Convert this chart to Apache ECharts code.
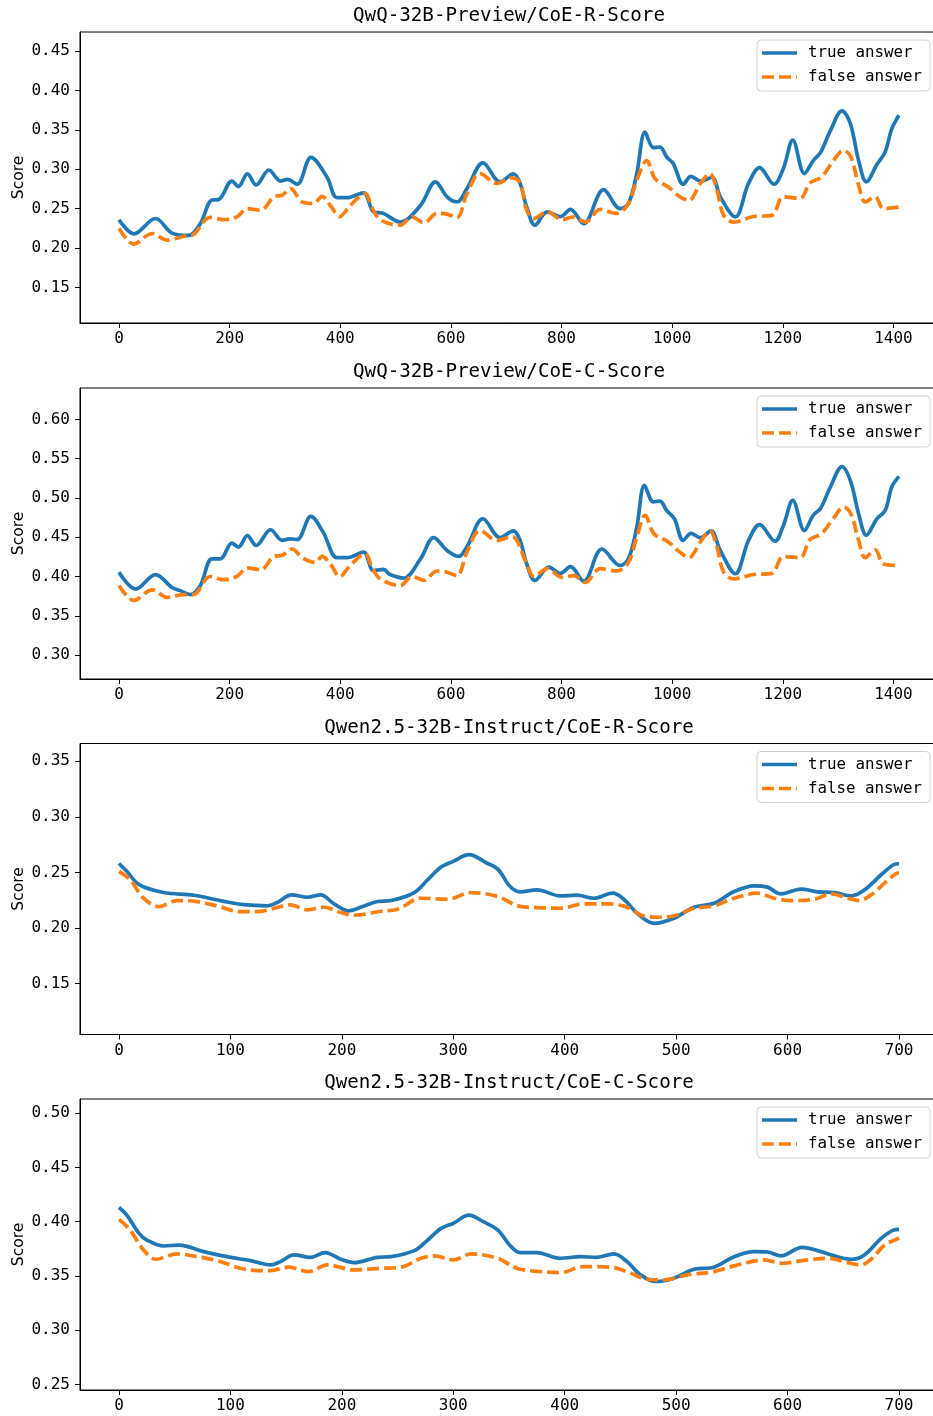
<!DOCTYPE html>
<html><head><meta charset="utf-8">
<script src="https://cdn.jsdelivr.net/npm/echarts@6/dist/echarts.min.js"></script>
<style>html,body{margin:0;padding:0;background:#fff}#c{width:933px;height:1416px}</style>
</head><body><div id="c"></div>
<script>
const titles = ['QwQ-32B-Preview/CoE-R-Score','QwQ-32B-Preview/CoE-C-Score','Qwen2.5-32B-Instruct/CoE-R-Score','Qwen2.5-32B-Instruct/CoE-C-Score'];
const seriesNames = ['true answer','false answer'];
const xTicksLong = [0,200,400,600,800,1000,1200,1400];
const xTicksShort = [0,100,200,300,400,500,600,700];
const yTicks1 = [0.15,0.20,0.25,0.30,0.35,0.40,0.45];
const yTicks2 = [0.30,0.35,0.40,0.45,0.50,0.55,0.60];
const yTicks3 = [0.15,0.20,0.25,0.30,0.35];
const yTicks4 = [0.25,0.30,0.35,0.40,0.45,0.50];

const qwqRTrue = [[0,0.236],[27,0.218],[66,0.2375],[96,0.219],[126,0.216],[147,0.231],[168,0.261],[180,0.2615],[204,0.285],[216,0.278],[232,0.294],[248,0.280],[271,0.299],[292,0.285],[304,0.287],[322,0.281],[347,0.315],[376,0.290],[394,0.264],[412,0.264],[442,0.270],[460,0.246],[478,0.244],[508,0.233],[545,0.254],[572,0.284],[593,0.265],[611,0.2585],[629,0.2755],[658,0.308],[689,0.284],[713,0.294],[725,0.282],[737,0.252],[752,0.229],[774,0.246],[798,0.240],[816,0.249],[840,0.231],[876,0.274],[906,0.250],[921,0.2565],[936,0.2945],[951,0.347],[966,0.3275],[978,0.328],[990,0.3155],[1002,0.307],[1020,0.281],[1034,0.291],[1051,0.285],[1072,0.2895],[1087,0.265],[1114,0.2395],[1138,0.282],[1158,0.302],[1184,0.281],[1201,0.301],[1218,0.337],[1239,0.2945],[1255,0.311],[1268,0.321],[1286,0.349],[1307,0.374],[1322,0.358],[1337,0.311],[1351,0.284],[1370,0.306],[1385,0.322],[1397,0.3515],[1410,0.3685]];
const qwqRFalse = [[0,0.225],[27,0.205],[60,0.2185],[87,0.210],[117,0.215],[135,0.2175],[165,0.239],[189,0.236],[213,0.2395],[232,0.250],[256,0.248],[280,0.265],[295,0.267],[310,0.2755],[331,0.2585],[352,0.2565],[367,0.2655],[382,0.254],[399,0.240],[418,0.254],[445,0.269],[457,0.252],[472,0.236],[508,0.229],[530,0.2395],[551,0.232],[575,0.244],[593,0.243],[611,0.2385],[629,0.269],[653,0.2945],[683,0.282],[710,0.289],[725,0.283],[737,0.248],[750,0.2375],[774,0.246],[801,0.236],[822,0.2395],[843,0.233],[870,0.249],[900,0.244],[921,0.2565],[936,0.286],[954,0.311],[969,0.288],[993,0.2775],[1014,0.265],[1030,0.2605],[1051,0.282],[1068,0.2945],[1081,0.2735],[1093,0.2415],[1111,0.233],[1147,0.240],[1180,0.2415],[1201,0.265],[1231,0.263],[1249,0.2825],[1270,0.290],[1291,0.3105],[1310,0.324],[1323,0.3155],[1337,0.280],[1349,0.2585],[1367,0.265],[1382,0.250],[1410,0.252]];
const qwqCTrue = [[0,0.4055],[30,0.384],[66,0.4025],[96,0.386],[111,0.382],[129,0.377],[147,0.3885],[168,0.4225],[183,0.4225],[204,0.4425],[216,0.4375],[232,0.452],[248,0.4395],[274,0.4595],[295,0.446],[309,0.448],[322,0.447],[347,0.4765],[369,0.4565],[394,0.424],[412,0.424],[442,0.431],[460,0.4075],[478,0.409],[490,0.4025],[515,0.398],[545,0.4225],[569,0.4495],[593,0.433],[614,0.4255],[629,0.438],[658,0.4735],[689,0.4495],[713,0.458],[725,0.446],[737,0.416],[752,0.395],[777,0.412],[798,0.404],[816,0.4125],[840,0.394],[873,0.435],[906,0.414],[921,0.4225],[936,0.463],[950,0.516],[966,0.495],[978,0.496],[990,0.484],[1004,0.4735],[1020,0.446],[1034,0.455],[1051,0.4495],[1070,0.458],[1087,0.433],[1114,0.4035],[1138,0.446],[1158,0.466],[1186,0.445],[1201,0.465],[1218,0.497],[1239,0.4585],[1255,0.478],[1268,0.4865],[1286,0.514],[1307,0.540],[1322,0.5225],[1337,0.480],[1351,0.4525],[1370,0.4735],[1385,0.484],[1397,0.514],[1410,0.5275]];
const qwqCFalse = [[0,0.3885],[27,0.3695],[60,0.383],[87,0.3735],[117,0.377],[134,0.377],[165,0.400],[189,0.396],[213,0.400],[232,0.411],[256,0.4085],[280,0.4255],[295,0.427],[313,0.435],[331,0.424],[355,0.418],[367,0.4255],[382,0.416],[399,0.400],[418,0.414],[445,0.429],[457,0.4125],[472,0.397],[508,0.3885],[530,0.400],[551,0.395],[575,0.407],[593,0.4055],[611,0.401],[629,0.431],[653,0.4585],[683,0.446],[710,0.451],[737,0.416],[750,0.400],[774,0.410],[801,0.399],[822,0.401],[843,0.3925],[870,0.410],[900,0.407],[921,0.418],[936,0.450],[951,0.478],[967,0.4545],[993,0.444],[1014,0.431],[1030,0.424],[1051,0.444],[1068,0.4585],[1081,0.4375],[1093,0.4055],[1111,0.397],[1147,0.4025],[1180,0.404],[1201,0.4255],[1231,0.424],[1249,0.447],[1270,0.4545],[1291,0.4735],[1310,0.4885],[1323,0.480],[1337,0.446],[1349,0.424],[1367,0.434],[1382,0.416],[1410,0.414]];
const qwenRTrue = [[0,0.258],[7,0.251],[18,0.239],[40,0.232],[67,0.2295],[94,0.224],[112,0.221],[133,0.220],[142,0.223],[155,0.2298],[169,0.2277],[181,0.2298],[193,0.2217],[206,0.2154],[220,0.2199],[232,0.2238],[244,0.2247],[265,0.2319],[277,0.2434],[289,0.2549],[300,0.260],[314,0.266],[330,0.2585],[340,0.253],[351,0.2373],[360,0.2325],[375,0.2343],[396,0.2289],[411,0.2295],[426,0.2268],[443,0.2313],[453,0.2259],[465,0.2133],[480,0.2042],[498,0.2088],[516,0.2187],[534,0.2223],[552,0.2328],[570,0.238],[582,0.2368],[594,0.2307],[612,0.235],[627,0.2325],[642,0.2319],[657,0.2289],[669,0.2343],[684,0.2479],[695,0.2569],[700,0.2578]];
const qwenRFalse = [[0,0.2509],[10,0.2434],[22,0.2268],[36,0.2192],[52,0.2247],[70,0.2238],[88,0.2199],[109,0.2147],[124,0.2147],[136,0.2169],[154,0.2208],[169,0.2163],[184,0.2187],[199,0.2139],[211,0.2115],[235,0.2151],[250,0.2169],[271,0.2268],[295,0.2259],[316,0.2319],[340,0.2283],[358,0.2199],[375,0.2184],[396,0.2178],[417,0.2217],[441,0.2217],[456,0.2187],[471,0.2108],[486,0.2097],[501,0.2117],[516,0.2178],[534,0.2199],[552,0.2268],[573,0.2313],[588,0.2268],[603,0.2247],[624,0.2259],[639,0.2307],[654,0.2268],[664,0.2247],[675,0.2298],[687,0.2404],[697,0.2488],[700,0.2495]];
const qwenCTrue = [[0,0.4131],[7,0.4061],[18,0.3893],[25,0.3831],[40,0.3776],[54,0.3785],[76,0.3724],[97,0.3678],[118,0.3641],[136,0.3602],[145,0.3632],[157,0.3694],[172,0.3672],[185,0.3715],[199,0.3654],[211,0.3623],[232,0.3672],[244,0.3678],[265,0.3733],[277,0.3831],[289,0.3939],[300,0.3985],[314,0.4061],[327,0.400],[340,0.3923],[351,0.3780],[360,0.3715],[375,0.3715],[396,0.3663],[414,0.3678],[429,0.3672],[444,0.3703],[456,0.3632],[468,0.351],[482,0.3449],[498,0.348],[516,0.3562],[534,0.3581],[552,0.3678],[570,0.3724],[582,0.3721],[594,0.3685],[613,0.3764],[630,0.3724],[642,0.3685],[657,0.3654],[669,0.3694],[684,0.3847],[695,0.3923],[700,0.393]];
const qwenCFalse = [[0,0.4021],[10,0.3923],[22,0.374],[33,0.3654],[52,0.3703],[70,0.3678],[88,0.3641],[109,0.3571],[124,0.355],[136,0.355],[152,0.3581],[170,0.354],[187,0.3602],[211,0.3556],[235,0.3571],[253,0.3581],[271,0.3663],[283,0.3685],[300,0.3648],[316,0.3703],[340,0.3663],[351,0.3602],[360,0.3562],[378,0.354],[396,0.3531],[417,0.3586],[441,0.3581],[456,0.354],[474,0.347],[489,0.3464],[510,0.351],[534,0.354],[552,0.3593],[579,0.3648],[594,0.3617],[618,0.3648],[636,0.3663],[654,0.3623],[666,0.3602],[675,0.3654],[687,0.3785],[696,0.3831],[700,0.385]];

const panels = [
  {title: titles[0], t: qwqRTrue, f: qwqRFalse, xt: xTicksLong, yt: yTicks1},
  {title: titles[1], t: qwqCTrue, f: qwqCFalse, xt: xTicksLong, yt: yTicks2},
  {title: titles[2], t: qwenRTrue, f: qwenRFalse, xt: xTicksShort, yt: yTicks3},
  {title: titles[3], t: qwenCTrue, f: qwenCFalse, xt: xTicksShort, yt: yTicks4}
];

const MONO = 'DejaVu Sans Mono';
const tops = [32, 388, 743.5, 1099];
const GL = 80, GW = 858, GH = 291;
const BLUE = '#1f77b4', ORANGE = '#ff7f0e';
const solidIcon = 'path://M0,0h35v3.6h-35z';
const dashIcon = 'path://M0,0h12v3.6h-12z M17,0h12v3.6h-12z M34,0h1v3.6h-1z';

const option = {animation: false, backgroundColor: '#fff', title: [], grid: [], xAxis: [], yAxis: [], legend: [], series: []};

panels.forEach((p, i) => {
  const all = p.t.concat(p.f);
  const xs = all.map(d => d[0]), ys = all.map(d => d[1]);
  const xmin = Math.min(...xs), xmax = Math.max(...xs);
  const xm = (xmax - xmin) * 0.05;
  const ymin = Math.min(...ys) - 0.1, ymax = Math.max(...ys) + 0.1;
  const top = tops[i];
  option.title.push({text: p.title, left: GL + GW / 2, top: top - 25, textAlign: 'center', padding: 0,
    textStyle: {fontFamily: MONO, fontSize: 19.2, fontWeight: 'normal', color: '#000'}});
  option.grid.push({left: GL, top: top, width: GW, height: GH, outerBoundsMode: 'none', containLabel: false,
    show: true, borderColor: '#000', borderWidth: 1, backgroundColor: 'transparent'});
  option.xAxis.push({gridIndex: i, type: 'value', min: xmin - xm, max: xmax + xm,
    axisLine: {show: true, onZero: false, lineStyle: {color: '#000', width: 1}},
    axisTick: {show: true, length: 5, inside: false, customValues: p.xt, lineStyle: {color: '#000', width: 1}},
    axisLabel: {show: true, customValues: p.xt, margin: 8, fontFamily: MONO, fontSize: 16, color: '#000', formatter: v => String(v)},
    splitLine: {show: false}});
  option.yAxis.push({gridIndex: i, type: 'value', min: ymin, max: ymax,
    name: 'Score', nameLocation: 'middle', nameGap: 53, nameRotate: 90, nameMoveOverlap: false,
    nameTextStyle: {fontFamily: 'DejaVu Sans', fontSize: 15.5, color: '#000'},
    axisLine: {show: true, onZero: false, lineStyle: {color: '#000', width: 1}},
    axisTick: {show: true, length: 5, inside: false, customValues: p.yt, lineStyle: {color: '#000', width: 1}},
    axisLabel: {show: true, customValues: p.yt, margin: 10, fontFamily: MONO, fontSize: 16, color: '#000', formatter: v => v.toFixed(2)},
    splitLine: {show: false}});
  option.legend.push({orient: 'vertical', left: 757, top: top + 8,
    data: [{name: seriesNames[0], icon: solidIcon}, {name: seriesNames[1], icon: dashIcon}],
    itemWidth: 35, itemHeight: 3.6, itemGap: 8, padding: [5, 8, 6, 5],
    borderColor: '#d0d0d0', borderWidth: 1, borderRadius: 4, backgroundColor: 'rgba(255,255,255,0.8)',
    textStyle: {fontFamily: MONO, fontSize: 15.8, color: '#000', padding: [0, 0, 0, 6], lineHeight: 16}});
  option.series.push({name: seriesNames[0], type: 'line', xAxisIndex: i, yAxisIndex: i, data: p.t,
    symbol: 'none', smooth: 0.35, lineStyle: {color: BLUE, width: 3.7}, itemStyle: {color: BLUE}, z: 2});
  option.series.push({name: seriesNames[1], type: 'line', xAxisIndex: i, yAxisIndex: i, data: p.f,
    symbol: 'none', smooth: 0.35, lineStyle: {color: ORANGE, width: 3.7, type: [12, 5]}, itemStyle: {color: ORANGE}, z: 3});
});

const chart = echarts.init(document.getElementById('c'), null, {renderer: 'canvas'});
chart.setOption(option);
</script>
</body></html>
